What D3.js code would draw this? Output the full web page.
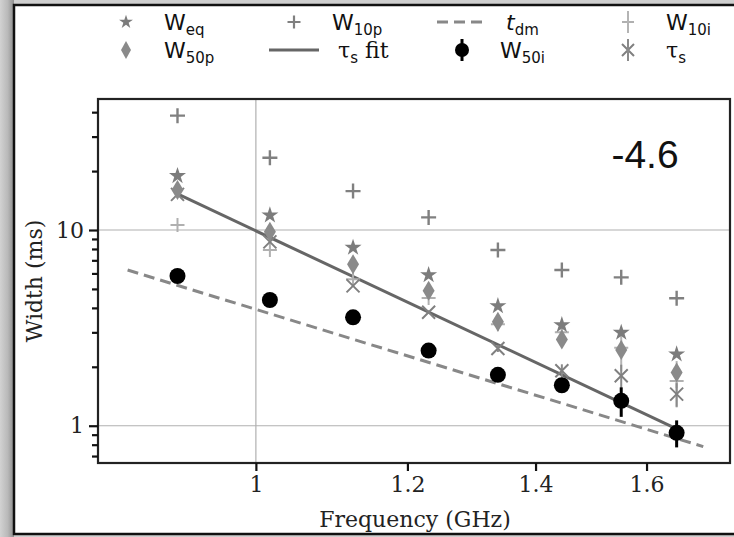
<!DOCTYPE html>
<html><head><meta charset="utf-8">
<script src="https://cdn.jsdelivr.net/npm/d3@7"></script>
<style>body{margin:0;background:#c9c9c9;}svg{display:block;}</style>
</head><body><svg id="c" width="734" height="537"></svg>
<script>
const freqs = [0.910, 1.017, 1.124, 1.231, 1.338, 1.445, 1.552, 1.659];
const Weq = [18.9, 11.9, 8.13, 5.89, 4.09, 3.27, 2.99, 2.32];
const W10p = [38.4, 23.4, 15.8, 11.6, 7.9, 6.25, 5.73, 4.48];
const W50p = [16.0, 9.8, 6.68, 4.9, 3.40, 2.76, 2.44, 1.87];
const W10i = [10.6, 7.9, 5.6, 4.5, 3.3, 3.0, 2.5, 1.69];
const W10iErr = [0, 0, 0, 0, 0, 0.3, 0.6, 0.45];
const tauS = [15.2, 8.7, 5.18, 3.8, 2.48, 1.91, 1.80, 1.45];
const tauSErr = [0, 0, 0, 0, 0.1, 0.15, 0.25, 0.2];
const W50i = [5.82, 4.39, 3.58, 2.42, 1.82, 1.61, 1.34, 0.92];
const W50iErr = [0, 0, 0, 0, 0.08, 0.12, 0.23, 0.145];
const fitAmp = 9.9, fitIndex = -4.6;
const dmAmp = 3.93, dmIndex = -3;
const bandEdges = [0.857, 1.713];
const xTicks = [1, 1.2, 1.4, 1.6];
const yMajor = [1, 10];
const yMinor = [0.7, 0.8, 0.9, 2, 3, 4, 5, 6, 7, 8, 9, 20, 30, 40];
const annotation = "-4.6";

const svg = d3.select("#c");
const defs = svg.append("defs");
const g1 = defs.append("linearGradient").attr("id","lsh").attr("x1",0).attr("x2",1).attr("y1",0).attr("y2",0);
g1.append("stop").attr("offset","0%").attr("stop-color","#d2d2d2");
g1.append("stop").attr("offset","55%").attr("stop-color","#b9b9b9");
g1.append("stop").attr("offset","100%").attr("stop-color","#8e8e8e");
svg.append("rect").attr("width",734).attr("height",537).attr("fill","#cfcfcf");
svg.append("rect").attr("x",0).attr("y",0).attr("width",14).attr("height",537).attr("fill","url(#lsh)");
svg.append("rect").attr("x",14).attr("y",5).attr("width",740).attr("height",529)
  .attr("fill","#fff").attr("stroke","#111").attr("stroke-width",2.5);

const L = 98, R = 730, T = 99, B = 463;
const x = d3.scaleLog().domain([0.827, 1.769]).range([L, R]);
const y = d3.scaleLog().domain([0.645, 46.7]).range([B, T]);

const plot = svg.append("g");
plot.selectAll(".hg").data(yMajor).join("line")
  .attr("x1",L).attr("x2",R).attr("y1",d=>y(d)).attr("y2",d=>y(d))
  .attr("stroke","#b0b0b0").attr("stroke-width",1.2);
plot.append("line").attr("x1",x(1)).attr("x2",x(1)).attr("y1",T).attr("y2",B)
  .attr("stroke","#b0b0b0").attr("stroke-width",1.2);

const lineGen = d3.line().x(d=>x(d[0])).y(d=>y(d[1]));
const dmPts = bandEdges.map(f=>[f, dmAmp*Math.pow(f, dmIndex)]);
plot.append("path").attr("d", lineGen(dmPts)).attr("fill","none")
  .attr("stroke","#888").attr("stroke-width",3).attr("stroke-dasharray","11,6");
const fitPts = [freqs[0], freqs[freqs.length-1]].map(f=>[f, fitAmp*Math.pow(f, fitIndex)]);
plot.append("path").attr("d", lineGen(fitPts)).attr("fill","none")
  .attr("stroke","#666").attr("stroke-width",3);

function errBars(vals, errs, color, w){
  plot.append("g").selectAll("line").data(freqs.map((f,i)=>[f,vals[i],errs[i]]).filter(d=>d[2]>0)).join("line")
    .attr("x1",d=>x(d[0])).attr("x2",d=>x(d[0]))
    .attr("y1",d=>y(d[1]+d[2])).attr("y2",d=>y(Math.max(d[1]-d[2],0.01)))
    .attr("stroke",color).attr("stroke-width",w);
}
function plusPath(s){return `M${-s},0H${s}M0,${-s}V${s}`;}
function xPath(s){return `M${-s},${-s}L${s},${s}M${-s},${s}L${s},${-s}`;}
function diamondPath(w,h){return `M0,${-h}L${w},0L0,${h}L${-w},0Z`;}
const star = d3.symbol().type(d3.symbolStar).size(90)();

errBars(W10i, W10iErr, "#b4b4b4", 2);
plot.append("g").selectAll("path").data(freqs).join("path")
  .attr("transform",(f,i)=>`translate(${x(f)},${y(W10i[i])})`)
  .attr("d",plusPath(7)).attr("stroke","#b0b0b0").attr("stroke-width",2).attr("fill","none");
plot.append("g").selectAll("path").data(freqs).join("path")
  .attr("transform",(f,i)=>`translate(${x(f)},${y(W10p[i])})`)
  .attr("d",plusPath(7.5)).attr("stroke","#808080").attr("stroke-width",2.4).attr("fill","none");
errBars(tauS, tauSErr, "#8a8a8a", 2);
plot.append("g").selectAll("path").data(freqs).join("path")
  .attr("transform",(f,i)=>`translate(${x(f)},${y(tauS[i])})`)
  .attr("d",xPath(6.5)).attr("stroke","#808080").attr("stroke-width",2).attr("fill","none");
plot.append("g").selectAll("path").data(freqs).join("path")
  .attr("transform",(f,i)=>`translate(${x(f)},${y(W50p[i])})`)
  .attr("d",diamondPath(6,10)).attr("fill","#8a8a8a");
plot.append("g").selectAll("path").data(freqs).join("path")
  .attr("transform",(f,i)=>`translate(${x(f)},${y(Weq[i])})`)
  .attr("d",star).attr("fill","#7c7c7c");
errBars(W50i, W50iErr, "#000", 3);
plot.append("g").selectAll("circle").data(freqs).join("circle")
  .attr("cx",f=>x(f)).attr("cy",(f,i)=>y(W50i[i])).attr("r",8).attr("fill","#000");

plot.append("rect").attr("x",L).attr("y",T).attr("width",R-L).attr("height",B-T)
  .attr("fill","none").attr("stroke","#222").attr("stroke-width",2.2);

const serif = "'DejaVu Serif', serif";
const fs = 22;
const yAxis = d3.axisLeft(y).tickValues(yMajor).tickFormat(d3.format("d")).tickSize(9).tickPadding(5);
const ya = svg.append("g").attr("transform",`translate(${L},0)`).call(yAxis);
const yAxisMinor = d3.axisLeft(y).tickValues(yMinor).tickFormat("").tickSize(6);
const ym = svg.append("g").attr("transform",`translate(${L},0)`).call(yAxisMinor);
const xAxis = d3.axisBottom(x).tickValues(xTicks).tickFormat(d=>d===1?"1":d3.format(".1f")(d)).tickSize(8).tickPadding(5);
const xa = svg.append("g").attr("transform",`translate(0,${B})`).call(xAxis);
[ya, ym, xa].forEach(a=>{
  a.select(".domain").remove();
  a.selectAll(".tick line").attr("stroke","#111").attr("stroke-width",2.2);
  a.selectAll(".tick text").attr("font-family",serif).attr("font-size",fs).attr("fill","#222");
});

svg.append("text").attr("x",415).attr("y",527).attr("text-anchor","middle")
  .attr("font-family",serif).attr("font-size",fs).attr("fill","#222").text("Frequency (GHz)");
svg.append("text").attr("transform",`translate(42,${(T+B)/2}) rotate(-90)`).attr("text-anchor","middle")
  .attr("font-family",serif).attr("font-size",fs).attr("fill","#222").text("Width (ms)");

svg.append("text").attr("x",645).attr("y",168).attr("text-anchor","middle")
  .attr("font-family","'Liberation Sans', Arial, sans-serif").attr("font-size",39).attr("fill","#111").text(annotation);

const sans = "'DejaVu Sans', sans-serif";
const lg = svg.append("g");
const rows = [22, 50];
const cols = [126, 294, 462, 628];
const items = [
  {r:0,c:0,mk:"star",label:[["W",""],["eq","sub"]]},
  {r:0,c:1,mk:"plus",label:[["W",""],["10p","sub"]]},
  {r:0,c:2,mk:"dash",label:[["t","it"],["dm","sub"]]},
  {r:0,c:3,mk:"plusi",label:[["W",""],["10i","sub"]]},
  {r:1,c:0,mk:"diamond",label:[["W",""],["50p","sub"]]},
  {r:1,c:1,mk:"line",label:[["τ","serif"],["s","sub"],[" fit","serif"]]},
  {r:1,c:2,mk:"dot",label:[["W",""],["50i","sub"]]},
  {r:1,c:3,mk:"tau",label:[["τ","serif"],["s","sub"]]}
];
items.forEach(it=>{
  const cx = cols[it.c], cy = rows[it.r];
  const gg = lg.append("g").attr("transform",`translate(${cx},${cy})`);
  if(it.mk==="star") gg.append("path").attr("d",d3.symbol().type(d3.symbolStar).size(60)()).attr("fill","#7c7c7c");
  if(it.mk==="plus") gg.append("path").attr("d",plusPath(6.5)).attr("stroke","#808080").attr("stroke-width",2.2).attr("fill","none");
  if(it.mk==="plusi"){ gg.append("path").attr("d",plusPath(6)).attr("stroke","#b0b0b0").attr("stroke-width",2).attr("fill","none");
     gg.append("line").attr("y1",-11).attr("y2",11).attr("stroke","#b4b4b4").attr("stroke-width",2);}
  if(it.mk==="dash") gg.append("line").attr("x1",-25).attr("x2",25).attr("stroke","#888").attr("stroke-width",3).attr("stroke-dasharray","11,6");
  if(it.mk==="line") gg.append("line").attr("x1",-25).attr("x2",25).attr("stroke","#666").attr("stroke-width",3);
  if(it.mk==="diamond") gg.append("path").attr("d",diamondPath(5,9)).attr("fill","#8a8a8a");
  if(it.mk==="dot"){ gg.append("line").attr("y1",-11).attr("y2",11).attr("stroke","#000").attr("stroke-width",3);
     gg.append("circle").attr("r",7).attr("fill","#000");}
  if(it.mk==="tau"){ gg.append("path").attr("d",xPath(6)).attr("stroke","#808080").attr("stroke-width",2).attr("fill","none");
     gg.append("line").attr("y1",-11).attr("y2",11).attr("stroke","#8a8a8a").attr("stroke-width",2);}
  const off = (it.mk==="dash"||it.mk==="line") ? 44 : 38;
  const t = gg.append("text").attr("x",off).attr("y",8).attr("font-family",sans).attr("font-size",22).attr("fill","#111");
  it.label.forEach(([s,k],i)=>{
    const ts = t.append("tspan").text(s);
    if(k==="sub") ts.attr("font-size",15).attr("dy",5);
    if(k==="it") ts.attr("font-style","italic");
    if(k==="serif") ts.attr("font-family",serif).attr("dy", i>0 ? -5 : 0);
  });
});
</script></body></html>
